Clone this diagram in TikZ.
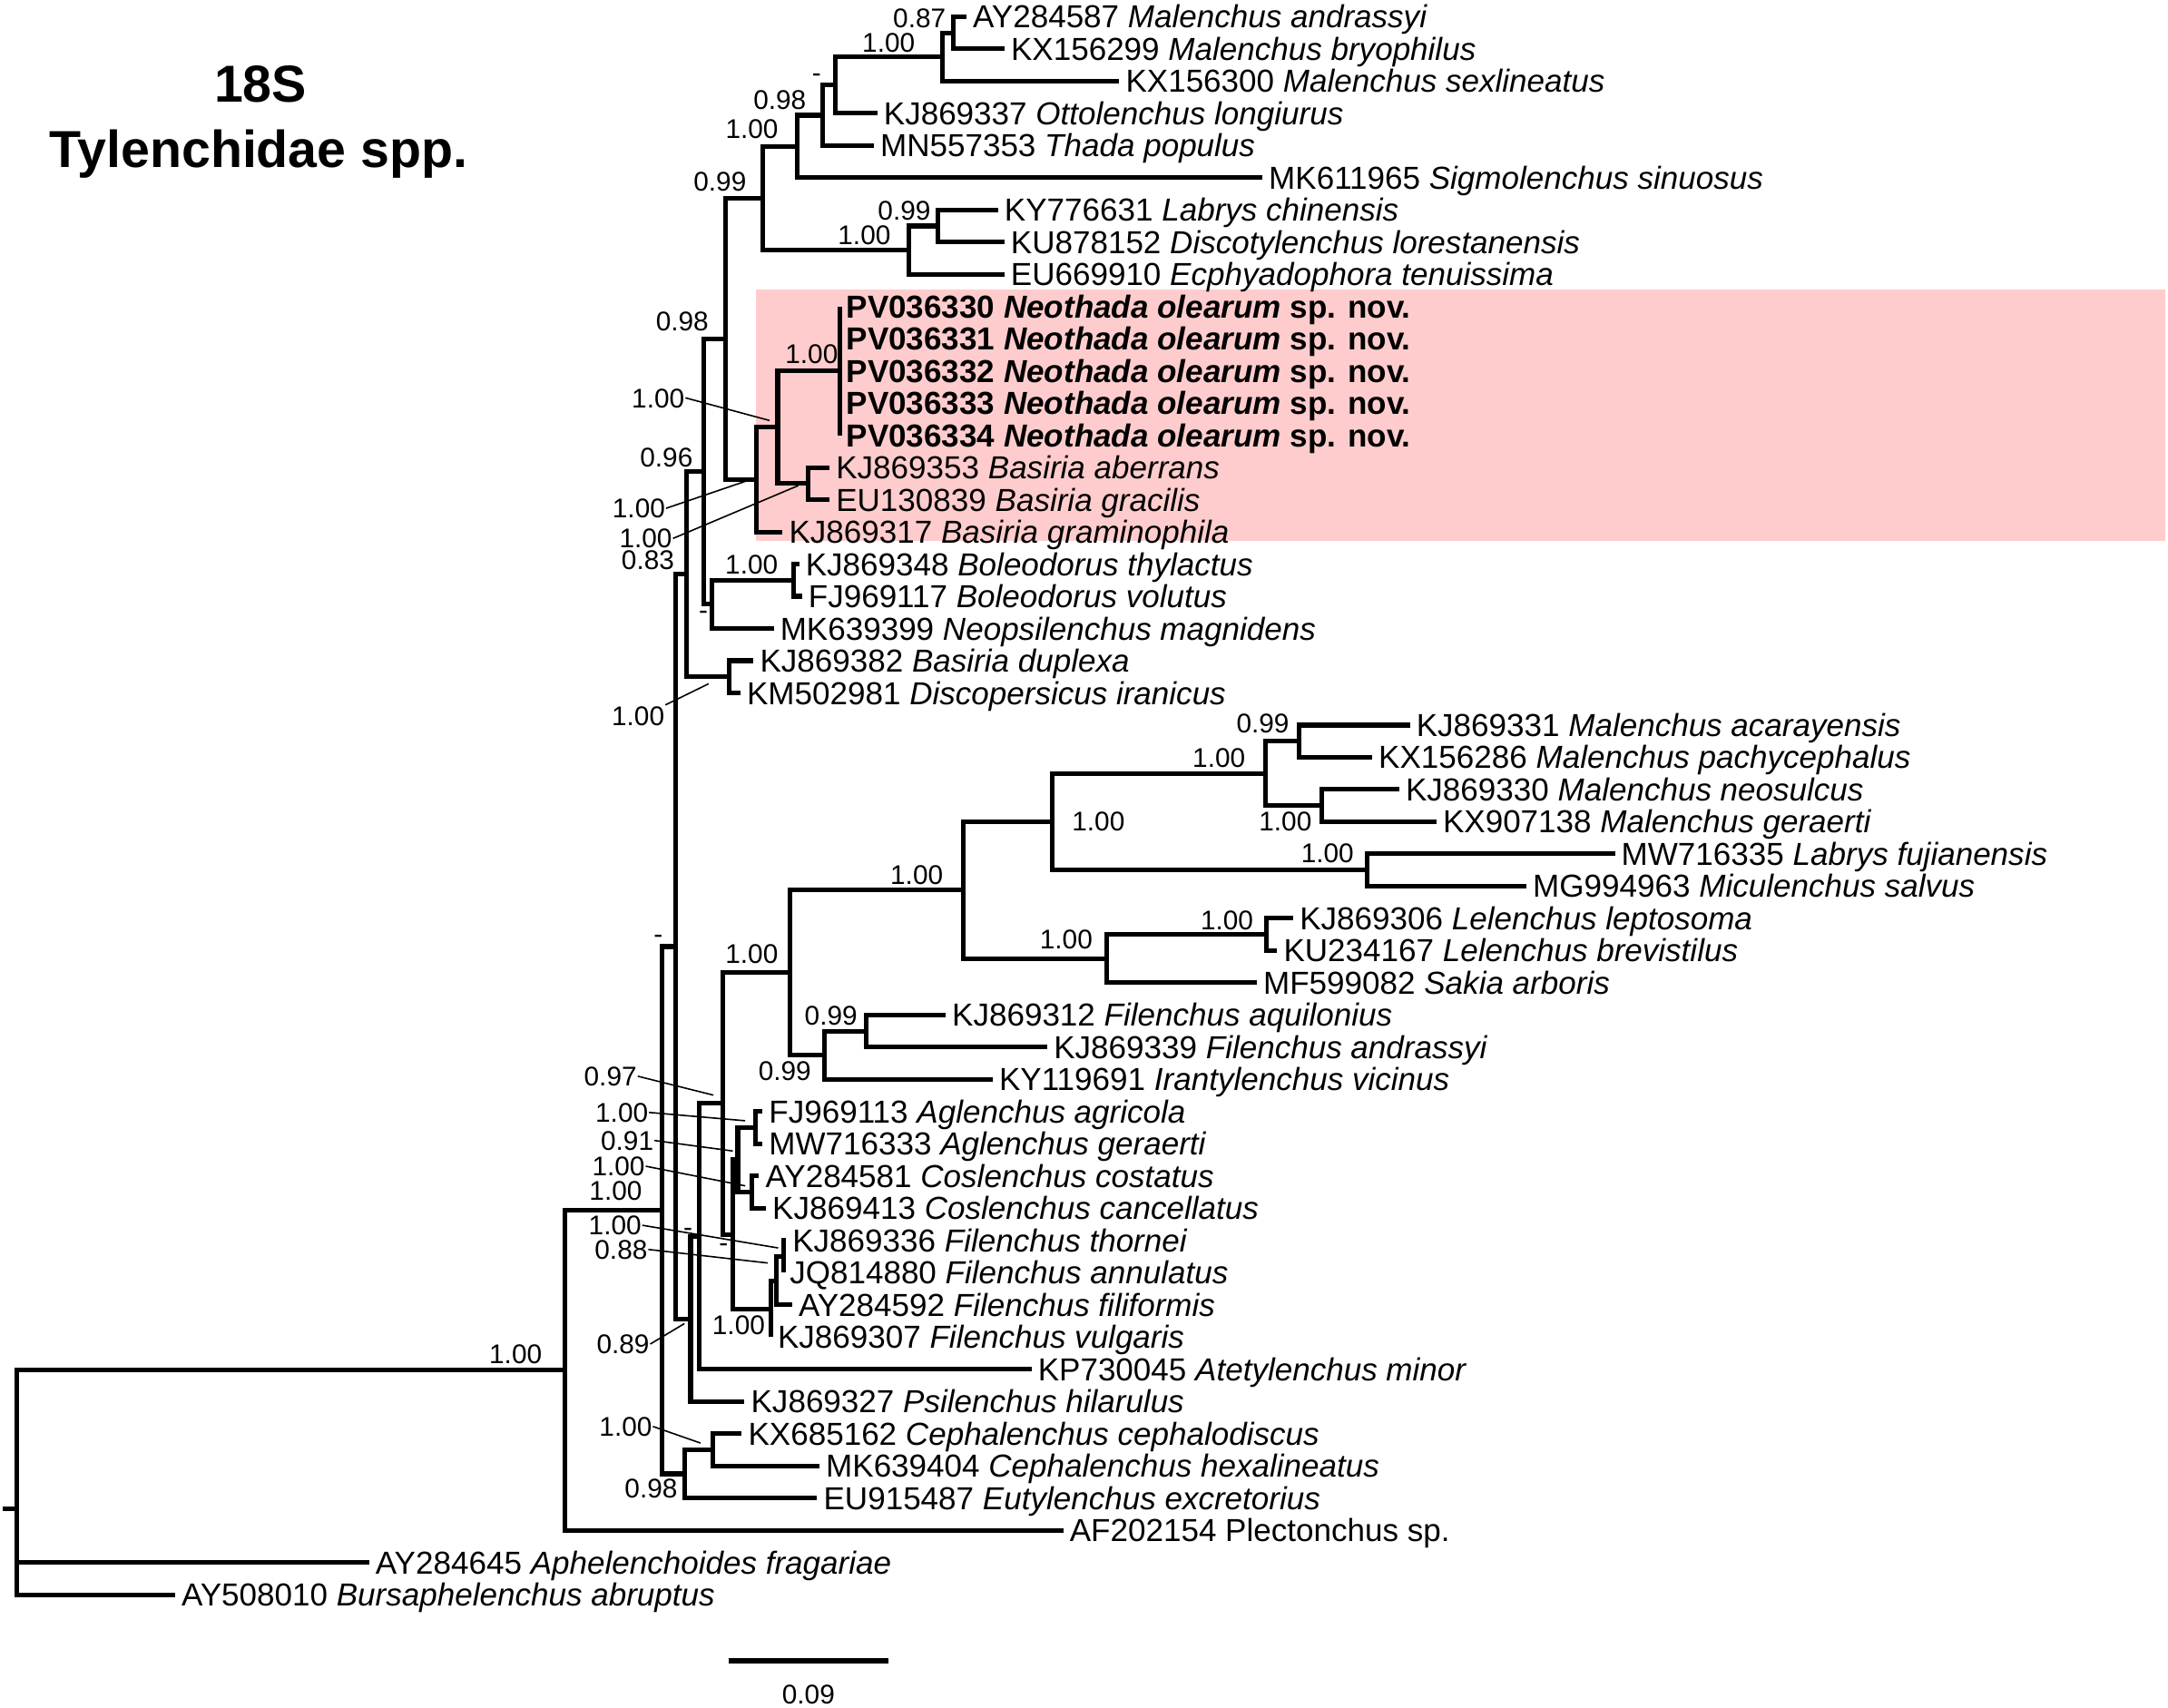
\documentclass[tikz,border=0pt]{standalone}
\usepackage{fontspec}
\setmainfont{Liberation Sans}
\definecolor{hl}{RGB}{254,204,204}
\newcommand{\tipfont}{\fontsize{6.54pt}{7pt}\selectfont}
\newcommand{\supfont}{\fontsize{5.56pt}{6pt}\selectfont}
\newcommand{\ttlfont}{\fontsize{10.7pt}{12pt}\selectfont\bfseries}
\begin{document}
\begin{tikzpicture}[x=0.01cm, y=-0.01cm,
  br/.style={line width=0.95pt, line join=miter},
  tip/.style={anchor=west, inner xsep=0.04cm, inner ysep=0pt, text height=4.68pt, text depth=0pt, font=\tipfont},
  sup/.style={inner sep=0pt, text height=3.98pt, text depth=0pt, font=\supfont},
  lead/.style={line width=0.3pt},
  ttl/.style={inner sep=0pt, text height=7.67pt, text depth=0pt, font=\ttlfont}]
\useasboundingbox (0,0) rectangle (1568,1235);
\fill[hl] (547,209.5) rectangle (1566,391.2);

% title
\node[ttl] (title1) at (188.4,60.6) {18S};
\node[ttl] (title2) at (187.1,107.5) {Tylenchidae spp.};

% internal nodes
\coordinate (G) at (689.6,23.65);
\coordinate (F) at (681.8,41.12);
\coordinate (E) at (604.4,61.50);
\coordinate (D) at (595.2,83.33);
\coordinate (C) at (576.8,105.89);
\coordinate (LB1) at (678.1,163.39);
\coordinate (LB) at (657.4,180.85);
\coordinate (B) at (551.5,143.37);
\coordinate (Neo) at (607.5,268.19);
\coordinate (BaAG) at (584.5,349.71);
\coordinate (K1) at (562.5,308.95);
\coordinate (K) at (547.2,346.80);
\coordinate (H) at (524.6,245.09);
\coordinate (Bol) at (573.9,419.58);
\coordinate (L) at (514.8,437.05);
\coordinate (J) at (508.9,341.07);
\coordinate (M) at (527.6,489.45);
\coordinate (N) at (496.3,415.26);
\coordinate (X1) at (939.5,536.03);
\coordinate (X2) at (955.7,582.61);
\coordinate (X) at (915,559.32);
\coordinate (Y) at (988.9,629.19);
\coordinate (W) at (761,594.26);
\coordinate (Z1) at (916.2,675.77);
\coordinate (Z) at (800.5,693.24);
\coordinate (V) at (697,643.75);
\coordinate (S3) at (626.3,745.64);
\coordinate (S2) at (596.4,763.10);
\coordinate (S) at (571.1,703.43);
\coordinate (Ag) at (546.5,815.50);
\coordinate (Cos) at (544,862.09);
\coordinate (R3) at (533.6,838.80);
\coordinate (F1) at (566.5,908.67);
\coordinate (F2) at (561.6,926.14);
\coordinate (F3) at (557.8,946.52);
\coordinate (R2) at (530.2,892.66);
\coordinate (R1) at (522.6,798.05);
\coordinate (R0) at (505.5,894.12);
\coordinate (Q) at (499.5,953.80);
\coordinate (P) at (488.5,684.53);
\coordinate (Ceph) at (515.8,1048.41);
\coordinate (C1) at (495.5,1065.88);
\coordinate (T) at (478.7,875.21);
\coordinate (I) at (408.7,990.92);
\coordinate (Rt) at (12.4,1091.35);
\coordinate (stub) at (2,1091.35);

% tips
\node[tip] (t1) at (699,12.00) {AY284587 \textit{Malenchus andrassyi}};
\node[tip] (t2) at (726.5,35.29) {KX156299 \textit{Malenchus bryophilus}};
\node[tip] (t3) at (809.5,58.58) {KX156300 \textit{Malenchus sexlineatus}};
\node[tip] (t4) at (634.5,81.87) {KJ869337 \textit{Ottolenchus longiurus}};
\node[tip] (t5) at (632,105.16) {MN557353 \textit{Thada populus}};
\node[tip] (t6) at (913,128.45) {MK611965 \textit{Sigmolenchus sinuosus}};
\node[tip] (t7) at (721.8,151.74) {KY776631 \textit{Labrys chinensis}};
\node[tip] (t8) at (726.4,175.03) {KU878152 \textit{Discotylenchus lorestanensis}};
\node[tip] (t9) at (726.4,198.32) {EU669910 \textit{Ecphyadophora tenuissima}};
\node[tip] (t10) at (607.5,221.61) {\textbf{PV036330 \textit{Neothada olearum} sp. nov.}};
\node[tip] (t11) at (607.5,244.90) {\textbf{PV036331 \textit{Neothada olearum} sp. nov.}};
\node[tip] (t12) at (607.5,268.19) {\textbf{PV036332 \textit{Neothada olearum} sp. nov.}};
\node[tip] (t13) at (607.5,291.48) {\textbf{PV036333 \textit{Neothada olearum} sp. nov.}};
\node[tip] (t14) at (607.5,314.77) {\textbf{PV036334 \textit{Neothada olearum} sp. nov.}};
\node[tip] (t15) at (600,338.06) {KJ869353 \textit{Basiria aberrans}};
\node[tip] (t16) at (600,361.35) {EU130839 \textit{Basiria gracilis}};
\node[tip] (t17) at (566,384.64) {KJ869317 \textit{Basiria graminophila}};
\node[tip] (t18) at (578,407.93) {KJ869348 \textit{Boleodorus thylactus}};
\node[tip] (t19) at (580,431.22) {FJ969117 \textit{Boleodorus volutus}};
\node[tip] (t20) at (559.6,454.51) {MK639399 \textit{Neopsilenchus magnidens}};
\node[tip] (t21) at (545,477.80) {KJ869382 \textit{Basiria duplexa}};
\node[tip] (t22) at (535.5,501.09) {KM502981 \textit{Discopersicus iranicus}};
\node[tip] (t23) at (1019.7,524.38) {KJ869331 \textit{Malenchus acarayensis}};
\node[tip] (t24) at (992.4,547.67) {KX156286 \textit{Malenchus pachycephalus}};
\node[tip] (t25) at (1012,570.96) {KJ869330 \textit{Malenchus neosulcus}};
\node[tip] (t26) at (1038.9,594.25) {KX907138 \textit{Malenchus geraerti}};
\node[tip] (t27) at (1168,617.54) {MW716335 \textit{Labrys fujianensis}};
\node[tip] (t28) at (1104,640.83) {MG994963 \textit{Miculenchus salvus}};
\node[tip] (t29) at (935.4,664.12) {KJ869306 \textit{Lelenchus leptosoma}};
\node[tip] (t30) at (923.7,687.41) {KU234167 \textit{Lelenchus brevistilus}};
\node[tip] (t31) at (909,710.70) {MF599082 \textit{Sakia arboris}};
\node[tip] (t32) at (683.9,733.99) {KJ869312 \textit{Filenchus aquilonius}};
\node[tip] (t33) at (757.5,757.28) {KJ869339 \textit{Filenchus andrassyi}};
\node[tip] (t34) at (718,780.57) {KY119691 \textit{Irantylenchus vicinus}};
\node[tip] (t35) at (551.5,803.86) {FJ969113 \textit{Aglenchus agricola}};
\node[tip] (t36) at (551.5,827.15) {MW716333 \textit{Aglenchus geraerti}};
\node[tip] (t37) at (549,850.44) {AY284581 \textit{Coslenchus costatus}};
\node[tip] (t38) at (554,873.73) {KJ869413 \textit{Coslenchus cancellatus}};
\node[tip] (t39) at (568.5,897.02) {KJ869336 \textit{Filenchus thornei}};
\node[tip] (t40) at (566.5,920.31) {JQ814880 \textit{Filenchus annulatus}};
\node[tip] (t41) at (572.9,943.60) {AY284592 \textit{Filenchus filiformis}};
\node[tip] (t42) at (557.8,966.89) {KJ869307 \textit{Filenchus vulgaris}};
\node[tip] (t43) at (746,990.18) {KP730045 \textit{Atetylenchus minor}};
\node[tip] (t44) at (538.5,1013.47) {KJ869327 \textit{Psilenchus hilarulus}};
\node[tip] (t45) at (536.5,1036.76) {KX685162 \textit{Cephalenchus cephalodiscus}};
\node[tip] (t46) at (592.7,1060.05) {MK639404 \textit{Cephalenchus hexalineatus}};
\node[tip] (t47) at (591,1083.34) {EU915487 \textit{Eutylenchus excretorius}};
\node[tip] (t48) at (769,1106.63) {AF202154 Plectonchus sp.};
\node[tip] (t49) at (267,1129.92) {AY284645 \textit{Aphelenchoides fragariae}};
\node[tip] (t50) at (126.6,1153.21) {AY508010 \textit{Bursaphelenchus abruptus}};

% branches
\foreach \p/\c in {G/t1, G/t2, F/G, F/t3, E/F, E/t4, D/E, D/t5, C/D, C/t6,
  LB1/t7, LB1/t8, LB/LB1, LB/t9, B/C, B/LB,
  Neo/t10, Neo/t11, Neo/t12, Neo/t13, Neo/t14, BaAG/t15, BaAG/t16,
  K1/Neo, K1/BaAG, K/K1, K/t17, H/B, H/K, Bol/t18, Bol/t19, L/Bol, L/t20,
  J/H, J/L, M/t21, M/t22, N/J, N/M,
  X1/t23, X1/t24, X2/t25, X2/t26, X/X1, X/X2, Y/t27, Y/t28, W/X, W/Y,
  Z1/t29, Z1/t30, Z/Z1, Z/t31, V/W, V/Z, S3/t32, S3/t33, S2/S3, S2/t34,
  S/V, S/S2, Ag/t35, Ag/t36, Cos/t37, Cos/t38, R3/Ag, R3/Cos,
  F1/t39, F1/t40, F2/F1, F2/t41, F3/F2, F3/t42, R2/R3, R2/F3,
  R1/S, R1/R2, R0/R1, R0/t43, Q/R0, Q/t44, P/N, P/Q,
  Ceph/t45, Ceph/t46, C1/Ceph, C1/t47, T/P, T/C1, I/T, I/t48,
  Rt/I, Rt/t49, Rt/t50}
  \draw[br] (\p) |- (\c);
\draw[br] (stub) -- (Rt);

% support values
\node[sup] (sG) at (665,13) {0.87};
\node[sup] (sF) at (642.7,30.6) {1.00};
\node[sup] (sE) at (590.6,52.5) {-};
\node[sup] (sD) at (564,72.2) {0.98};
\node[sup] (sC) at (543.8,93) {1.00};
\node[sup] (sB) at (520.7,131) {0.99};
\node[sup] (sLB1) at (654,152) {0.99};
\node[sup] (sLB) at (625.1,169.6) {1.00};
\node[sup] (sNeo) at (587,256) {1.00};
\node[sup] (sK1) at (476,287.7) {1.00};
\node[sup] (sH) at (493.4,232) {0.98};
\node[sup] (sJ) at (482,330.4) {0.96};
\node[sup] (sK) at (462,367.6) {1.00};
\node[sup] (sBaAG) at (467,389.4) {1.00};
\node[sup] (sN) at (468.6,404.8) {0.83};
\node[sup] (sBol) at (543.6,408) {1.00};
\node[sup] (sL) at (508.7,440.9) {-};
\node[sup] (sM) at (461.5,517.5) {1.00};
\node[sup] (sX1) at (913.3,522.9) {0.99};
\node[sup] (sX) at (881.6,548) {1.00};
\node[sup] (sW) at (794.4,594) {1.00};
\node[sup] (sX2) at (929.6,594) {1.00};
\node[sup] (sY) at (960.1,617) {1.00};
\node[sup] (sV) at (663,632.3) {1.00};
\node[sup] (sZ1) at (887.4,665.1) {1.00};
\node[sup] (sZ) at (771.1,679.3) {1.00};
\node[sup] (sS) at (543.7,690) {1.00};
\node[sup] (sS3) at (601,734.6) {0.99};
\node[sup] (sS2) at (567.6,774.4) {0.99};
\node[sup] (sR1) at (441.5,778.3) {0.97};
\node[sup] (sAg) at (449.7,804.5) {1.00};
\node[sup] (sR3) at (453.6,824.8) {0.91};
\node[sup] (sCos) at (447.3,843.4) {1.00};
\node[sup] (sT) at (445.3,860.9) {1.00};
\node[sup] (sF1) at (444.8,886.1) {1.00};
\node[sup] (sF2) at (449.2,903.6) {0.88};
\node[sup] (sR0) at (497.5,887.2) {-};
\node[sup] (sR2) at (523.4,898.1) {-};
\node[sup] (sF3) at (534.2,958.3) {1.00};
\node[sup] (sQ) at (450.6,972) {0.89};
\node[sup] (sCeph) at (452.5,1031.6) {1.00};
\node[sup] (sC1) at (470.9,1076.4) {0.98};
\node[sup] (sI) at (372.9,979.1) {1.00};
\node[sup] (sP) at (476,675) {-};

% leader lines
\coordinate (eK1) at (556.6,304.1);
\coordinate (eK) at (539.6,347.9);
\coordinate (eBaAG) at (577.3,351.2);
\coordinate (eM) at (512.5,494.5);
\coordinate (eR1) at (516,792);
\coordinate (eAg) at (538.9,810.5);
\coordinate (eR3) at (530,832.4);
\coordinate (eCos) at (539,857.6);
\coordinate (eF1) at (562.8,902.5);
\coordinate (eF2) at (555.3,913.4);
\coordinate (eQ) at (495,957.2);
\coordinate (eCeph) at (506.6,1043.6);
\draw[lead] (sK1.east) -- (eK1);
\draw[lead] (sK.east) -- (eK);
\draw[lead] (sBaAG.east) -- (eBaAG);
\draw[lead] (sM.north east) -- (eM);
\draw[lead] (sR1.east) -- (eR1);
\draw[lead] (sAg.east) -- (eAg);
\draw[lead] (sR3.east) -- (eR3);
\draw[lead] (sCos.east) -- (eCos);
\draw[lead] (sF1.east) -- (eF1);
\draw[lead] (sF2.east) -- (eF2);
\draw[lead] (sQ.east) -- (eQ);
\draw[lead] (sCeph.east) -- (eCeph);

% scale bar
\coordinate (sb1) at (527.2,1201.1);
\coordinate (sb2) at (642.3,1201.1);
\draw[br] (sb1) -- (sb2);
\node[sup] (sbl) at (584.7,1225.2) {0.09};
\end{tikzpicture}
\end{document}
